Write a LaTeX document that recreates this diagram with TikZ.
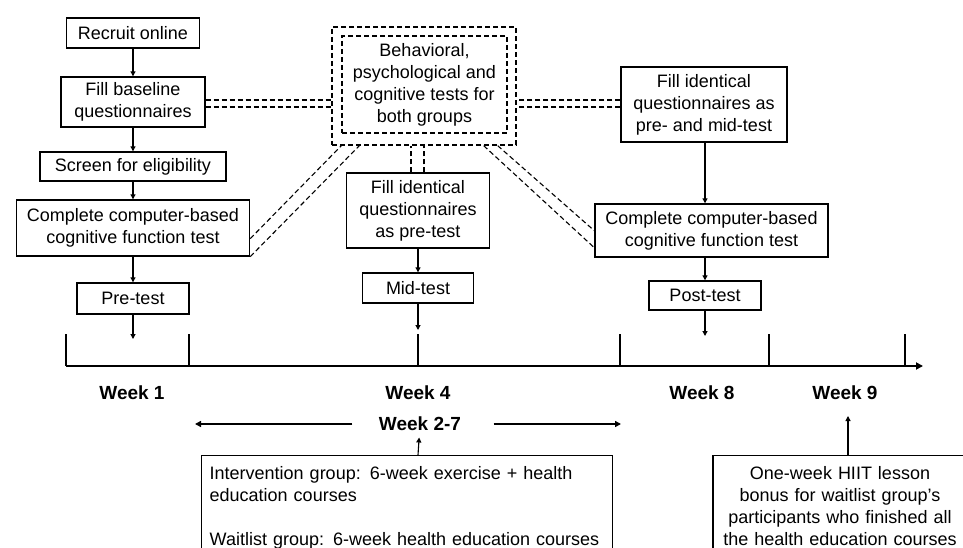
\documentclass[tikz,border=0pt]{standalone}
\usepackage{fontspec}
\setmainfont{Liberation Sans}
\usetikzlibrary{arrows.meta,calc}

\tikzset{every picture/.style={line width=1pt}}
\tikzset{
  box/.style={draw, line width=1.4pt, align=center, inner sep=0pt, font=\fontsize{18}{22}\selectfont},
  tbox/.style={draw, dash pattern=on 5pt off 3pt, line width=1.4pt, inner sep=0pt},
  dline/.style={dash pattern=on 5pt off 3pt, line width=1.1pt},
  flow/.style={-{Triangle[length=5pt,width=5pt]}, line width=1.1pt},
  bigflow/.style={-{Triangle[length=6pt,width=6pt]}, line width=2pt},
  week/.style={inner sep=2pt, font=\fontsize{19}{22}\selectfont\bfseries},
  axis/.style={line width=2pt},
}

\begin{document}
\begin{tikzpicture}[x=1pt,y=1pt,yscale=-1,xscale=1]
	\useasboundingbox (0,0) rectangle (963,548);
	\clip (0,0) rectangle (963,548);

	%Shape: Rectangle - left column
	\node[box, minimum width=133, minimum height=30] (recruit) at (133,33) {Recruit online};
	\node[box, minimum width=144, minimum height=50] (baseline) at (133,102) {Fill baseline\\questionnaires};
	\node[box, minimum width=186, minimum height=29] (screen) at (133,166.5) {Screen for eligibility};
	\node[box, minimum width=233, minimum height=56] (complete1) at (133,228) {Complete computer-based\\cognitive function test};
	\node[box, minimum width=112, minimum height=31] (pretest) at (133,298.5) {Pre-test};

	%Shape: Rectangle - tests for both groups
	\node[tbox, minimum width=184, minimum height=118] (testsout) at (424,86) {};
	\node[tbox, minimum width=165, minimum height=97, align=center, font=\fontsize{18}{22}\selectfont] (tests) at (424.5,84.5) {Behavioral,\\psychological and\\cognitive tests for\\both groups};

	%Shape: Rectangle - middle column
	\node[box, minimum width=143, minimum height=75] (fillmid) at (418,210.5) {Fill identical\\questionnaires\\as pre-test};
	\node[box, minimum width=111, minimum height=30] (midtest) at (418,288) {Mid-test};

	%Shape: Rectangle - right column
	\node[box, minimum width=166, minimum height=75] (fillpost) at (704,104.5) {Fill identical\\questionnaires as\\pre- and mid-test};
	\node[box, minimum width=233, minimum height=53] (complete2) at (711.5,230.5) {Complete computer-based\\cognitive function test};
	\node[box, minimum width=112, minimum height=29] (posttest) at (705,295.5) {Post-test};

	%Shape: Rectangle - bottom
	\node[box, anchor=north west, text width=395, inner xsep=8pt, inner ysep=11pt, align=left] (intv) at (201,455) {Intervention group: 6-week exercise + health\\education courses\\[22pt]Waitlist group: 6-week health education courses};
	\node[box, anchor=north, text width=238, inner xsep=8pt, inner ysep=11pt] (bonus) at (840,455) {One-week HIIT lesson\\bonus for waitlist group's\\participants who finished all\\the health education courses};

	%Straight Lines - time axis
	\coordinate (t0) at (66,334);
	\coordinate (t1) at (189,334);
	\coordinate (t4) at (418,334);
	\coordinate (t8) at (620,334);
	\coordinate (t9) at (769,334);
	\coordinate (t10) at (905,334);
	\coordinate (tend) at (923,366);
	\draw[axis] (t0) -- (t0 |- tend);
	\draw[axis, -{Triangle[length=7pt,width=7pt]}] (t0 |- tend) -- (tend);
	\foreach \t in {t1,t4,t8,t9,t10}
		\draw[axis] (\t) -- (\t |- tend);

	% Text Node
	\node[week] (week1) at (132,393) {Week 1};
	\node[week] (week4) at (418,393) {Week 4};
	\node[week] (week8) at (702,393) {Week 8};
	\node[week] (week9) at (845,393) {Week 9};
	\node[week] (week27) at (420,424) {Week 2-7};

	%Straight Lines - flow
	\coordinate (in1) at (133,339);
	\coordinate (in4) at (418,330);
	\coordinate (in8) at (705,336);
	\coordinate (in9) at (848,416);
	\draw[flow] (recruit) -- (baseline);
	\draw[flow] (baseline) -- (screen);
	\draw[flow] (screen) -- (complete1);
	\draw[flow] (complete1) -- (pretest);
	\draw[flow] (pretest) -- (in1);
	\draw[flow] (fillmid) -- (midtest);
	\draw[flow] (midtest) -- (in4);
	\draw[flow] (fillpost.south -| posttest) -- (complete2.north -| posttest);
	\draw[flow] (complete2.south -| posttest) -- (posttest);
	\draw[flow] (posttest) -- (in8);
	\draw[flow, shorten >=4pt] (intv.north -| week4) -- (week27);
	\draw[flow] (bonus.north -| in9) -- (in9);

	%Straight Lines - week 2-7 span
	\coordinate (l27) at (195,424);
	\coordinate (r27) at (621,424);
	\draw[bigflow] ($(week27.west)+(-24,0)$) -- (l27);
	\draw[bigflow] ($(week27.east)+(30,0)$) -- (r27);

	%Dashed Lines - to the tests
	\draw[dline] ($(baseline.east)+(0,-2)$) -- ($(baseline.east -| testsout.west)+(0,-2)$);
	\draw[dline] ($(baseline.east)+(0,5)$) -- ($(baseline.east -| testsout.west)+(0,5)$);
	\draw[dline] ($(fillpost.west)+(0,-4.5)$) -- ($(fillpost.west -| testsout.east)+(0,-4.5)$);
	\draw[dline] ($(fillpost.west)+(0,2.5)$) -- ($(fillpost.west -| testsout.east)+(0,2.5)$);
	\draw[dline] ($(complete1.south east)+(0,-18)$) -- ($(testsout.south west)+(10,0)$);
	\draw[dline] (complete1.south east) -- ($(testsout.south west)+(28,0)$);
	\draw[dline] ($(fillmid.north)+(-7,0)$) -- ($(fillmid.north |- testsout.south)+(-7,0)$);
	\draw[dline] ($(fillmid.north)+(6,0)$) -- ($(fillmid.north |- testsout.south)+(6,0)$);
	\draw[dline] ($(testsout.south east)+(-33,0)$) -- ($(complete2.south west)+(0,-10)$);
	\draw[dline] ($(testsout.south east)+(-19,0)$) -- ($(complete2.south west)+(0,-27)$);

\end{tikzpicture}
\end{document}
